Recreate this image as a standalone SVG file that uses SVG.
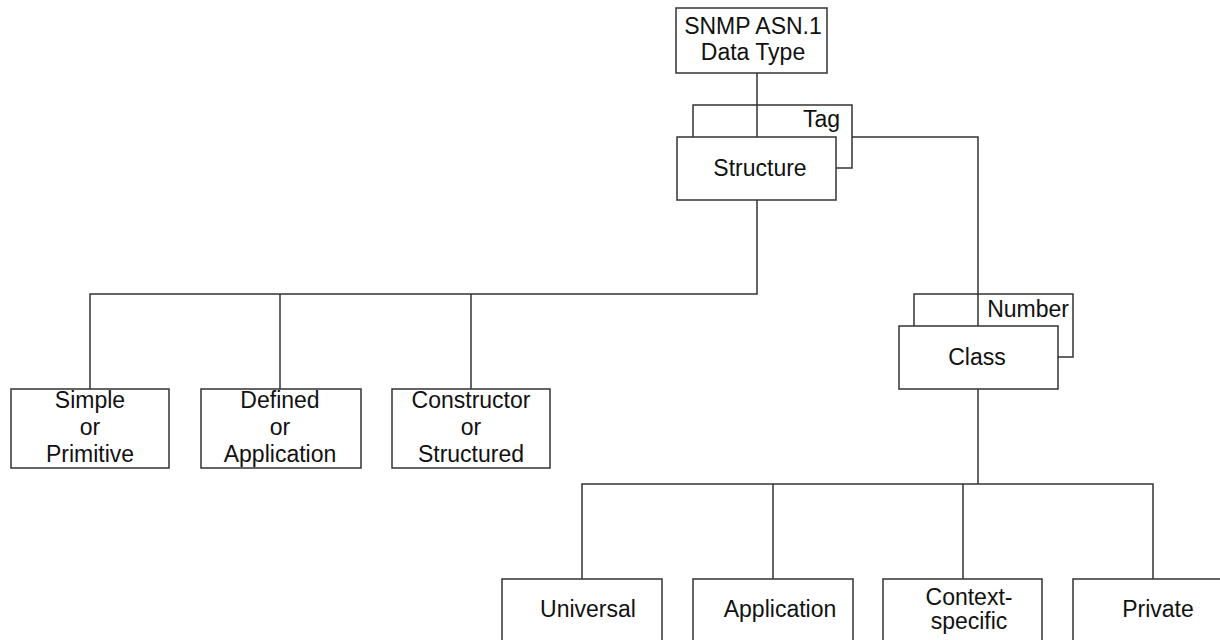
<svg xmlns="http://www.w3.org/2000/svg" width="1220" height="640" viewBox="0 0 1220 640">
  <style>
    .box { fill: #fff; stroke: #333; stroke-width: 1.5; }
    .wire { fill: none; stroke: #333; stroke-width: 1.5; }
    text { font-family: "Liberation Sans", Arial, sans-serif; font-size: 23px; fill: #111; }
    .c { text-anchor: middle; }
    .e { text-anchor: end; }
  </style>
  <rect width="1220" height="640" fill="#fff"/>

  <!-- tag / number brackets behind their boxes -->
  <g id="tag">
    <path class="box" d="M693,137 V105 H852 V168 H836"/>
    <text class="e" x="840" y="127">Tag</text>
  </g>
  <g id="number">
    <path class="box" d="M914,326 V294 H1073 V357 H1058"/>
    <text class="e" x="1069" y="317">Number</text>
  </g>

  <!-- connectors -->
  <g id="connectors" class="wire">
    <path d="M757,73 V137"/>
    <path d="M852,137 H978 V326"/>
    <path d="M757,200 V294 H90 V389"/>
    <path d="M280,294 V389"/>
    <path d="M471,294 V389"/>
    <path d="M978,389 V484"/>
    <path d="M582,579 V484 H1153 V579"/>
    <path d="M773,484 V579"/>
    <path d="M963,484 V579"/>
  </g>

  <g id="root">
    <rect class="box" x="676" y="8" width="151" height="65"/>
    <text class="c" x="753" y="34">SNMP ASN.1</text>
    <text class="c" x="753" y="60">Data Type</text>
  </g>

  <g id="structure">
    <rect class="box" x="677" y="137" width="159" height="63"/>
    <text class="c" x="760" y="176">Structure</text>
  </g>

  <g id="class">
    <rect class="box" x="899" y="326" width="159" height="63"/>
    <text class="c" x="977" y="365">Class</text>
  </g>

  <g id="simple">
    <rect class="box" x="11" y="389" width="158" height="79"/>
    <text class="c" x="90" y="408">Simple</text>
    <text class="c" x="90" y="435">or</text>
    <text class="c" x="90" y="462">Primitive</text>
  </g>

  <g id="defined">
    <rect class="box" x="201" y="389" width="160" height="79"/>
    <text class="c" x="280" y="408">Defined</text>
    <text class="c" x="280" y="435">or</text>
    <text class="c" x="280" y="462">Application</text>
  </g>

  <g id="constructor">
    <rect class="box" x="392" y="389" width="158" height="79"/>
    <text class="c" x="471" y="408">Constructor</text>
    <text class="c" x="471" y="435">or</text>
    <text class="c" x="471" y="462">Structured</text>
  </g>

  <g id="universal">
    <rect class="box" x="502" y="579" width="160" height="80"/>
    <text class="c" x="588" y="617">Universal</text>
  </g>

  <g id="application">
    <rect class="box" x="693" y="579" width="160" height="80"/>
    <text class="c" x="780" y="617">Application</text>
  </g>

  <g id="context-specific">
    <rect class="box" x="883" y="579" width="159" height="80"/>
    <text class="c" x="969" y="605">Context-</text>
    <text class="c" x="969" y="629">specific</text>
  </g>

  <g id="private">
    <rect class="box" x="1073" y="579" width="160" height="80"/>
    <text class="c" x="1158" y="617">Private</text>
  </g>
</svg>
